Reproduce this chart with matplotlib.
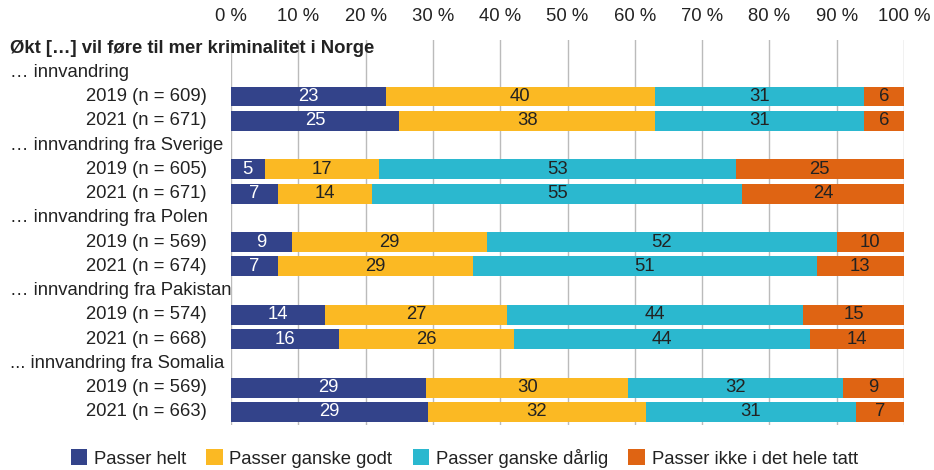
import numpy as np
import matplotlib
matplotlib.use("Agg")
import matplotlib.pyplot as plt
import matplotlib.transforms as mtransforms
from matplotlib.patches import Patch

plt.rcParams['font.family'] = ['Liberation Sans', 'DejaVu Sans']

title = "Økt […] vil føre til mer kriminalitet i Norge"
groups = ["… innvandring", "… innvandring fra Sverige", "… innvandring fra Polen",
          "… innvandring fra Pakistan", "... innvandring fra Somalia"]
years = [["2019 (n = 609)", "2021 (n = 671)"],
         ["2019 (n = 605)", "2021 (n = 671)"],
         ["2019 (n = 569)", "2021 (n = 674)"],
         ["2019 (n = 574)", "2021 (n = 668)"],
         ["2019 (n = 569)", "2021 (n = 663)"]]
categories = ["Passer helt", "Passer ganske godt", "Passer ganske dårlig",
              "Passer ikke i det hele tatt"]
passer_helt = [23, 25, 5, 7, 9, 7, 14, 16, 29, 29]
ganske_godt = [40, 38, 17, 14, 29, 29, 27, 26, 30, 32]
ganske_darlig = [31, 31, 53, 55, 52, 51, 44, 44, 32, 31]
ikke_i_det_hele = [6, 6, 25, 24, 10, 13, 15, 14, 9, 7]
ticks = [0, 10, 20, 30, 40, 50, 60, 70, 80, 90, 100]

colors = ["#33438A", "#FBB923", "#2BB8CF", "#DF6413"]
txt_colors = ["white", "#222222", "#222222", "#222222"]
dark = "#222222"
fs = 13.3

vals = np.array([passer_helt, ganske_godt, ganske_darlig, ikke_i_det_hele], dtype=float)
pct = vals / vals.sum(axis=0) * 100

fig = plt.figure(figsize=(9.34, 4.70), dpi=100)
ax = fig.add_axes([231 / 934, 1 - 425 / 470, (904 - 231) / 934, (425 - 40) / 470])

# row positions: 0 = header, then each group label + two bars
bar_rows = []
group_rows = []
r = 1
for g in range(len(groups)):
    group_rows.append(r)
    bar_rows += [r + 1, r + 2]
    r += 3
bar_rows = np.array(bar_rows)

left = np.zeros(len(bar_rows))
for i in range(4):
    ax.barh(bar_rows, pct[i], left=left, height=0.82, color=colors[i], zorder=3)
    for j in range(len(bar_rows)):
        ax.text(left[j] + pct[i][j] / 2, bar_rows[j], "%d" % vals[i][j],
                ha="center", va="center", color=txt_colors[i], fontsize=fs, zorder=4)
    left += pct[i]

ax.set_xlim(0, 100)
ax.set_ylim(15.54, -0.33)
ax.set_xticks(ticks)
ax.set_xticklabels(["%d %%" % t for t in ticks], fontsize=fs, color=dark)
ax.xaxis.tick_top()
ax.tick_params(axis="x", length=0, pad=11)
ax.set_yticks([])
ax.grid(axis="x", color="#BBBBBB", linewidth=1, zorder=0)
for s in ax.spines.values():
    s.set_visible(False)

trans = mtransforms.blended_transform_factory(fig.transFigure, ax.transData)
ax.text(10 / 934, 0, title, transform=trans, ha="left", va="center",
        fontsize=fs, fontweight="bold", color=dark, zorder=5)
for g in range(len(groups)):
    ax.text(10 / 934, group_rows[g], groups[g], transform=trans, ha="left", va="center",
            fontsize=fs, color=dark)
    for k in range(2):
        ax.text(207 / 934, group_rows[g] + 1 + k, years[g][k], transform=trans,
                ha="right", va="center", fontsize=fs, color=dark)

handles = [Patch(facecolor=colors[i], label=categories[i]) for i in range(4)]
fig.legend(handles=handles, loc="center", bbox_to_anchor=(0.497, 1 - 458 / 470), ncol=4,
           frameon=False, fontsize=fs, handlelength=0.9, handleheight=0.9,
           handletextpad=0.35, columnspacing=1.1, labelcolor=dark)

fig.savefig("out.png", dpi=100)
